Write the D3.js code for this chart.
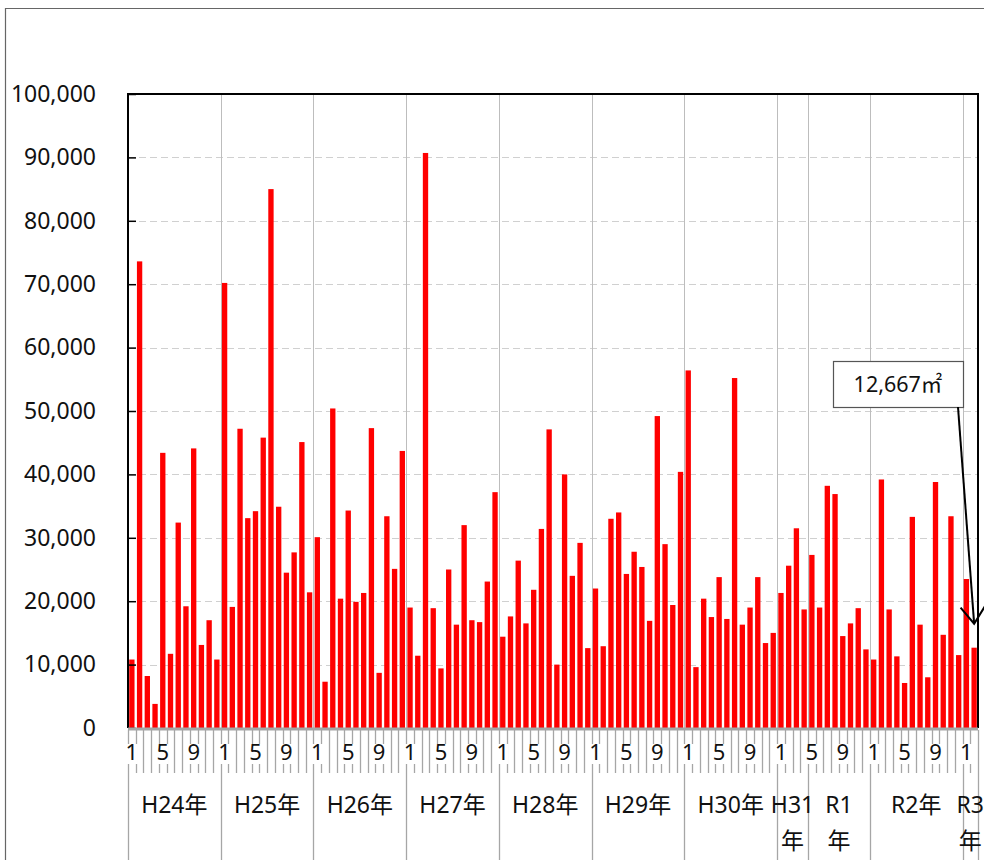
<!DOCTYPE html>
<html>
<head>
<meta charset="utf-8">
<script src="https://cdn.jsdelivr.net/npm/d3@7"></script>
<style>
  body { margin: 0; background: #fff; }
  svg { display: block; font-family: "Noto Sans", "Noto Sans CJK JP", sans-serif; }
</style>
</head>
<body>
<svg width="984" height="860"></svg>
<script>
const svg = d3.select('svg');

// era labels, month each era starts at, number of months in it
const eras = ['H24年', 'H25年', 'H26年', 'H27年', 'H28年', 'H29年', 'H30年', 'H31年', 'R1年', 'R2年', 'R3年'];
const eraStart = [1, 1, 1, 1, 1, 1, 1, 1, 5, 1, 1];
const eraCount = [12, 12, 12, 12, 12, 12, 12, 4, 8, 12, 2];
const labelMonths = [1, 5, 9];
const yTicks = [0, 10000, 20000, 30000, 40000, 50000, 60000, 70000, 80000, 90000, 100000];

// monthly area (m2)
const values = [
  10800, 73600, 8200, 3800, 43400, 11700, 32400, 19200, 44100, 13100, 17000, 10800,
  70200, 19100, 47200, 33100, 34200, 45800, 85000, 34900, 24500, 27700, 45100, 21400,
  30100, 7300, 50400, 20400, 34300, 19900, 21300, 47300, 8700, 33400, 25100, 43700,
  19000, 11400, 90700, 18900, 9400, 25000, 16300, 32000, 17000, 16700, 23100, 37200,
  14400, 17600, 26400, 16500, 21800, 31400, 47100, 10000, 40000, 24000, 29200, 12600,
  22000, 12900, 33000, 34000, 24300, 27800, 25400, 16900, 49200, 29000, 19400, 40400,
  56400, 9600, 20400, 17500, 23800, 17200, 55200, 16300, 19000, 23800, 13400, 15000,
  21300, 25600, 31500, 18700,
  27300, 19000, 38200, 36900, 14500, 16500, 18900, 12400,
  10800, 39200, 18700, 11300, 7100, 33300, 16300, 8000, 38800, 14700, 33400, 11500,
  23500, 12667,
];
const callout = '12,667㎡';

// build month categories from the era tables
const cats = [];
const eraFirst = [];
eras.forEach((e, i) => {
  eraFirst.push(cats.length);
  for (let k = 0; k < eraCount[i]; k++) {
    cats.push({ era: i, month: eraStart[i] + k });
  }
});

const m = { left: 128, right: 978, top: 94, bottom: 728 };

const x = d3.scaleBand()
  .domain(d3.range(cats.length))
  .range([m.left, m.right])
  .paddingInner(0.31)
  .paddingOuter(0.155);
const edge = i => m.left + i * x.step();

const y = d3.scaleLinear()
  .domain([0, 100000])
  .range([m.bottom, m.top]);

// outer chart border
svg.append('path')
  .attr('d', 'M5.5,860V8.5H984')
  .attr('fill', 'none')
  .attr('stroke', '#666')
  .attr('stroke-width', 1.2);

// horizontal dashed grid
svg.append('g')
  .selectAll('line')
  .data(yTicks.slice(1, -1))
  .join('line')
  .attr('x1', m.left)
  .attr('x2', m.right)
  .attr('y1', d => Math.round(y(d)) + 0.5)
  .attr('y2', d => Math.round(y(d)) + 0.5)
  .attr('stroke', '#d0d0d0')
  .attr('stroke-dasharray', '7,4');

// vertical era lines in plot
svg.append('g')
  .selectAll('line')
  .data(eraFirst.slice(1))
  .join('line')
  .attr('x1', d => Math.round(edge(d)) + 0.5)
  .attr('x2', d => Math.round(edge(d)) + 0.5)
  .attr('y1', m.top)
  .attr('y2', m.bottom)
  .attr('stroke', '#bdbdbd');

// bars
svg.append('g')
  .selectAll('rect')
  .data(values)
  .join('rect')
  .attr('x', (d, i) => x(i))
  .attr('y', d => y(d))
  .attr('width', x.bandwidth())
  .attr('height', d => y(0) - y(d))
  .attr('fill', '#ff0000');

// plot frame (top, left, right)
svg.append('path')
  .attr('d', `M${m.left},${m.bottom}V${m.top}H${m.right}V${m.bottom}`)
  .attr('fill', 'none')
  .attr('stroke', '#000')
  .attr('stroke-width', 2);

// y axis
const yAxis = svg.append('g')
  .attr('transform', `translate(${m.left},0)`)
  .call(d3.axisLeft(y)
    .tickValues(yTicks)
    .tickFormat(d3.format(','))
    .tickSizeInner(-8)
    .tickSizeOuter(0)
    .tickPadding(32));
yAxis.select('.domain').remove();
yAxis.selectAll('.tick line').attr('stroke', '#000').attr('stroke-width', 1.5);
yAxis.selectAll('text')
  .attr('font-size', 23)
  .attr('fill', '#111')
  .attr('font-family', '"Noto Sans", sans-serif');

// x axis base line
svg.append('line')
  .attr('x1', m.left)
  .attr('x2', m.right)
  .attr('y1', m.bottom + 1)
  .attr('y2', m.bottom + 1)
  .attr('stroke', '#a6a6a6')
  .attr('stroke-width', 3);

// month separators
const monthRow = svg.append('g');
monthRow.selectAll('line')
  .data(d3.range(cats.length + 1))
  .join('line')
  .attr('x1', d => Math.round(edge(d)) + 0.5)
  .attr('x2', d => Math.round(edge(d)) + 0.5)
  .attr('y1', m.bottom + 2)
  .attr('y2', d => (eraFirst.includes(d) || d === cats.length) ? 860 : 773)
  .attr('stroke', '#a6a6a6')
  .attr('stroke-width', 1.3);

// month labels
const ml = monthRow.selectAll('g.ml')
  .data(cats.map((c, i) => ({ ...c, i })).filter(c => labelMonths.includes(c.month)))
  .join('g')
  .attr('class', 'ml')
  .attr('transform', d => `translate(${x(d.i) + x.bandwidth() / 2},760)`);
ml.append('rect')
  .attr('x', -6)
  .attr('y', -16)
  .attr('width', 12)
  .attr('height', 20)
  .attr('fill', '#fff');
ml.append('text')
  .attr('text-anchor', 'middle')
  .attr('font-size', 22)
  .attr('fill', '#111')
  .text(d => d.month);

// era labels (wrapped when the era is too narrow)
eras.forEach((e, i) => {
  const x0 = edge(eraFirst[i]);
  const x1 = edge(eraFirst[i] + eraCount[i]);
  const cx = (x0 + x1) / 2;
  const t = svg.append('text')
    .attr('x', cx)
    .attr('y', 813)
    .attr('text-anchor', 'middle')
    .attr('font-size', 23)
    .attr('fill', '#111')
    .text(e);
  if (t.node().getComputedTextLength() > x1 - x0 - 12) {
    t.text(e.slice(0, -1));
    svg.append('text')
      .attr('x', cx)
      .attr('y', 849)
      .attr('text-anchor', 'middle')
      .attr('font-size', 23)
      .attr('fill', '#111')
      .text(e.slice(-1));
  }
});

// callout for the latest month
const last = values.length - 1;
const tipX = x(last) + x.bandwidth() / 2;
const tipY = y(values[last]) - 24;
const box = { x: 833, y: 361, w: 130, h: 46 };
svg.append('rect')
  .attr('x', box.x + 0.5)
  .attr('y', box.y + 0.5)
  .attr('width', box.w)
  .attr('height', box.h)
  .attr('fill', '#fff')
  .attr('stroke', '#555')
  .attr('stroke-width', 1.2);
svg.append('text')
  .attr('x', box.x + box.w / 2)
  .attr('y', box.y + box.h / 2 + 8)
  .attr('text-anchor', 'middle')
  .attr('font-size', 21.5)
  .attr('fill', '#111')
  .text(callout);
const sx = box.x + box.w - 5;
const sy = box.y + box.h;
svg.append('line')
  .attr('x1', sx).attr('y1', sy)
  .attr('x2', tipX).attr('y2', tipY)
  .attr('stroke', '#000')
  .attr('stroke-width', 2);
const ang = Math.atan2(tipY - sy, tipX - sx);
const head = [ang + Math.PI * 0.8, ang - Math.PI * 0.8].map(a => [tipX + 21 * Math.cos(a), tipY + 21 * Math.sin(a)]);
svg.append('path')
  .attr('d', `M${head[0]}L${tipX},${tipY}L${head[1]}`)
  .attr('fill', 'none')
  .attr('stroke', '#000')
  .attr('stroke-width', 2);
</script>
</body>
</html>
